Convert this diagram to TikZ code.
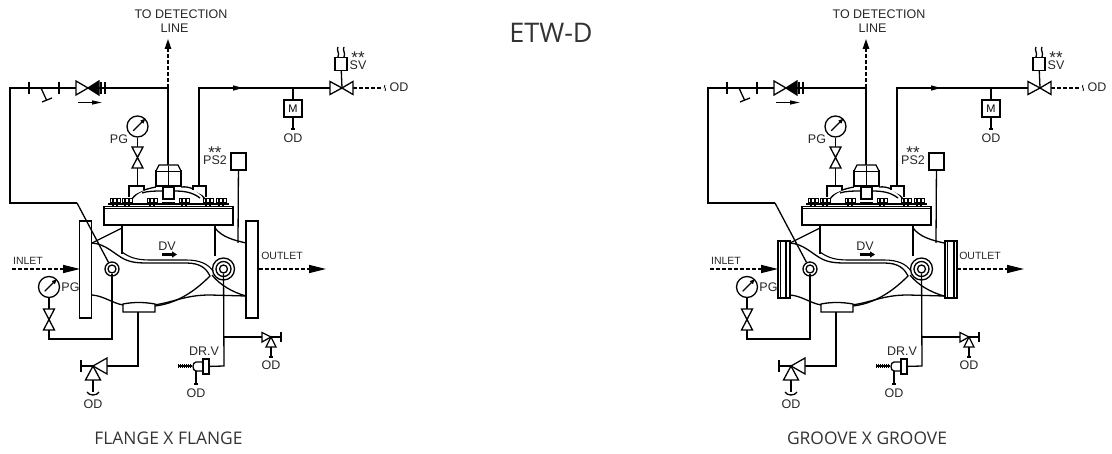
\documentclass[tikz,border=0pt]{standalone}
\usepackage{fontspec}
\setmainfont{Liberation Sans}
\newfontfamily\titlefont{Open Sans}
\usetikzlibrary{arrows.meta}

\newcommand{\stars}{\fontsize{17}{17}\selectfont\raisebox{-7pt}[5pt][0pt]{**}}

\begin{document}
\begin{tikzpicture}[x=1pt,y=-1pt,line width=1.3pt,
    tag/.style={font=\fontsize{12.5}{13}\selectfont,inner sep=0pt,text=black!85},
    smalltag/.style={font=\fontsize{10.5}{11}\selectfont,inner sep=0pt,text=black!85},
    caption/.style={font=\titlefont\fontsize{17.4}{18}\selectfont,inner sep=0pt,text=black!80},
    gauge/.style={circle,draw,fill=white,inner sep=0pt,minimum size=21pt},
    port/.style={circle,draw,fill=white,inner sep=0pt,minimum size=#1},
    boxn/.style={rectangle,draw,fill=white,inner sep=0pt,minimum width=#1},
    flange/.style={rectangle,draw,line width=1.5pt,inner sep=0pt,minimum width=12pt,minimum height=97pt},
    groove/.style={rectangle,draw,line width=1.5pt,inner sep=0pt,minimum width=12pt,minimum height=57pt},
    flow/.style={dash pattern=on 3.5pt off 2.5pt},
    sym/.style={draw,fill=white,line join=miter},
    needle/.style={-{Triangle[length=5pt,width=4pt]},line width=1.1pt},
    pics/bowtie/.style={code={\path[sym] (-5.5,-10.5) -- (5.5,-10.5) -- (-5.5,10.5) -- (5.5,10.5) -- cycle;}}]

    \useasboundingbox (0,0) rectangle (1112,454);

    \node[font=\titlefont\fontsize{27}{28}\selectfont,inner sep=0pt,text=black!80] (title) at (551,33) {ETW-D};
    \node[caption] (capL) at (168.5,438) {FLANGE X FLANGE};
    \node[caption] (capR) at (867,438) {GROOVE X GROOVE};

    \foreach \s/\dx in {L/0,R/698}{
    \begin{scope}[xshift=\dx pt]
    %% labels
    \node[tag] (toA\s) at (181,14) {TO DETECTION};
    \node[tag] (toB\s) at (174.5,28) {LINE};
    \node[tag] (pgA\s) at (119,139) {PG};
    \node[tag] (pgB\s) at (70.5,287) {PG};
    \node[tag] (ps\s) at (215,160) {PS2};
    \node[tag] (psS\s) at (215,149) {\stars};
    \node[tag] (svS\s) at (358,54.5) {\stars};
    \node[tag] (sv\s) at (358,65) {SV};
    \node[tag] (dv\s) at (167,246) {DV};
    \node[smalltag] (in\s) at (28,261) {INLET};
    \node[smalltag] (out\s) at (282,256) {OUTLET};
    \node[tag] (drv\s) at (204,351) {DR.V};
    \node[tag] (odA\s) at (399,87) {OD};
    \node[tag] (odB\s) at (293,138) {OD};
    \node[tag] (odC\s) at (93,404) {OD};
    \node[tag] (odD\s) at (196,393) {OD};
    \node[tag] (odE\s) at (271,365) {OD};

    %% junctions
    \coordinate (topA\s) at (10,88);
    \coordinate (topB\s) at (10,203);
    \coordinate (topC\s) at (77,203);
    \coordinate (tee\s) at (168,88);
    \coordinate (up\s) at (168,39);
    \coordinate (pilot\s) at (168,187);
    \coordinate (riseA\s) at (199,88);
    \coordinate (riseB\s) at (199,187);
    \coordinate (mtee\s) at (293,88);
    \coordinate (way\s) at (342,88);
    \coordinate (wayE\s) at (353,88);
    \coordinate (wayO\s) at (383,88);
    \coordinate (inS\s) at (12,269);
    \coordinate (inE\s) at (80,269);
    \coordinate (outS\s) at (259,269);
    \coordinate (outE\s) at (326,269);
    \coordinate (lowA\s) at (112,339);
    \coordinate (lowB\s) at (49,339);
    \coordinate (padA\s) at (138,312);
    \coordinate (padB\s) at (138,366);
    \coordinate (ang\s) at (93,366);
    \coordinate (angO\s) at (93,392);
    \coordinate (dra\s) at (224,366);
    \coordinate (drb\s) at (224,337);
    \coordinate (ret\s) at (271,337);
    \coordinate (retO\s) at (271,357);
    \coordinate (drO\s) at (196,384);
    \coordinate (mO\s) at (293,129);
    \coordinate (psB\s) at (238,243);

    %% gauges, ports, boxes
    \node[gauge] (PGa\s) at (137.5,126.5) {};
    \node[gauge] (PGb\s) at (49,287) {};
    \node[port=14pt] (portA\s) at (112,269) {};
    \node[port=8pt] (portAi\s) at (112,269) {};
    \node[port=22pt] (portB\s) at (223.5,269) {};
    \node[port=15pt] (portBm\s) at (223.5,269) {};
    \node[port=8pt] (portBi\s) at (223.5,269) {};
    \node[boxn=18pt,minimum height=17pt,font=\fontsize{11}{11}\selectfont] (M\s) at (293,108.5) {M};
    \node[boxn=12pt,minimum height=12.5pt] (SV\s) at (341,64) {};
    \node[boxn=15pt,minimum height=17pt] (PS\s) at (238.5,161.5) {};
    \node[boxn=6pt,minimum height=15pt] (DR\s) at (206,366.5) {};

    %% piping
    \draw (topC\s) -- (topB\s) -- (topA\s) -- (tee\s) -- (pilot\s);
    \draw (topC\s) -- (portA\s);
    \draw[flow,-{Triangle[length=10pt,width=6.5pt]}] (tee\s) -- (up\s);
    \draw (riseB\s) -- (riseA\s) -- (way\s);
    \draw[-{Triangle[length=10pt,width=5pt]}] (riseA\s) -- (243,88);
    \draw (mtee\s) -- (M\s);
    \draw (M\s) -- (mO\s);
    \draw (291,129) -- (295,129);
    \draw (SV\s) -- (way\s);
    \draw[flow] (wayE\s) -- (wayO\s);
    \draw[line width=.8pt] (385,85) .. controls (383,87) and (387,89) .. (385,91);
    \draw (PS\s) -- (psB\s);
    \draw (PGa\s) -- (137.5,187);
    \draw[flow,-{Triangle[length=17pt,width=8pt]}] (inS\s) -- (inE\s);
    \draw[flow,-{Triangle[length=17pt,width=8pt]}] (outS\s) -- (outE\s);
    \draw (portAi\s) -- (lowA\s) -- (lowB\s) -- (PGb\s);
    \draw (padA\s) -- (padB\s) -- (ang\s);
    \draw (portBi\s) -- (dra\s) -- (DR\s);
    \draw (drb\s) -- (ret\s);
    \draw (196,371) -- (drO\s);
    \draw (194,384) -- (198,384);
    \draw (ang\s) -- (angO\s);
    \draw (ret\s) -- (retO\s);
    \draw (269,357) -- (273,357);
    \draw[needle,shorten <=5pt] (PGa\s.225) -- (PGa\s.45);
    \draw[needle,shorten <=5pt] (PGb\s.225) -- (PGb\s.45);

    %% line symbols
    \draw (29,82) -- (29,94);
    \draw (59,82) -- (59,94);
    \draw (41,88) -- (46.5,100);
    \draw (42,102) -- (52,98);
    \path[sym] (76,81) -- (76,95) -- (88,88) -- cycle;
    \path[sym,fill=black] (88,88) -- (99,81) -- (99,95) -- cycle;
    \draw (101,82) -- (101,94);
    \draw (105,82) -- (105,94);
    \draw[-{Triangle[length=10pt,width=4pt]}] (78,102.5) -- (102,102.5);
    \path[sym] (330,81.5) -- (330,94.5) -- (342,88) -- cycle;
    \path[sym] (353,81.5) -- (353,94.5) -- (342,88) -- cycle;
    \draw (338,47) .. controls (336,50) and (340,53) .. (338,57);
    \draw (344,47) .. controls (342,50) and (346,53) .. (344,57);
    \pic at (137.5,157.5) {bowtie};
    \pic at (49,319.5) {bowtie};
    \path[sym] (107,358) -- (107,374) -- (93,366) -- cycle;
    \path[sym] (93,366) -- (85.5,380) -- (100.5,380) -- cycle;
    \draw (81,366) -- (93,366);
    \draw (81,360) -- (81,372);
    \draw (87,392) .. controls (89,396) and (97,396) .. (99,392);
    \path[sym] (262,332.5) -- (262,342) -- (271,337) -- cycle;
    \path[sym] (271,337) -- (266,347) -- (276,347) -- cycle;
    \draw (271,337) -- (281,337);
    \draw (281,332) -- (281,342);
    %% drain valve
    \draw (203,362) -- (196,362) .. controls (192,362) and (192,371) .. (196,371) -- (203,371);
    \foreach \k in {178,180,...,190}
    \draw[line width=.9pt] (\k,364) -- (\k,368.5);
    \draw (178,366) -- (192,366);
    \draw[line width=.8pt] (203,359) -- (203,374);

    %% bonnet
    \draw[line width=1.5pt] (104,206.5) rectangle (233,225);
    \draw[line width=1pt] (104,208.5) -- (233,208.5);
    \foreach \b in {115,127,152,184,208,221}{
      \path[sym,line width=1pt] (\b-5,198.5) rectangle (\b+5,203);
      \draw[line width=1.4pt] (\b-2,198.5) -- (\b-2,206);
      \draw[line width=1.4pt] (\b+2,198.5) -- (\b+2,206);
    }
    \draw[line width=1.2pt] (108,204) -- (229,204);
    \path[sym] (163,187) rectangle (174,199);
    \draw[line width=2.5pt] (162,203) -- (175,203);
    \draw (132,199) .. controls (137,192) and (145,189) .. (156,187);
    \draw (181,187) .. controls (190,186) and (198,190) .. (205,199);
    \draw (142,193) .. controls (148,191) and (155,191) .. (163,191);
    \draw (174,191) .. controls (184,191) and (192,192) .. (200,198);
    \path[sym] (129,197) -- (129,186) -- (144,186) -- (144,190);
    \path[sym] (206,197) -- (206,186) -- (193,186) -- (193,190);
    \path[sym] (156,171) rectangle (181,186);
    \path[sym] (156,171) -- (159,165) -- (178,165) -- (181,171);
    \draw[line width=1pt] (168,166) -- (168,187);

    %% valve body
    \draw (122,225) -- (122,254);
    \draw (215,225) -- (215,256);
    \draw (92,243) -- (122,228);
    \draw (215,228) .. controls (222,237) and (233,240) .. (246,243);
    \draw[line width=1.1pt] (122,252) .. controls (130,258) and (138,260) .. (150,260) -- (186,260) .. controls (200,260) and (208,264) .. (213,271);
    \draw (92,243) .. controls (106,244) and (114,254) .. (124,259) .. controls (132,263) and (140,263) .. (150,263) -- (186,263) .. controls (200,263) and (206,268) .. (210,276) .. controls (198,288) and (180,303) .. (155,306);
    \draw (212,275) .. controls (220,285) and (232,292) .. (246,296);
    \draw (92,295) .. controls (104,296) and (112,303) .. (123,305);
    \draw (154,305) .. controls (175,302) and (185,295) .. (210,295) -- (246,296);
    \path[sym] (123,312) -- (123,304) .. controls (133,302) and (144,302) .. (155,304) -- (155,312) -- cycle;
    %% flow mark
    \draw[line width=2.5pt,-{Triangle[length=5pt,width=6pt]}] (162,254.5) -- (177,254.5);
    \end{scope}
    }

    %% end connections
    \node[flange] (inFlange) at (85.5,269.5) {};
    \node[flange] (outFlange) at (252,269.5) {};
    \node[groove] (inGroove) at (784,269.5) {};
    \node[groove] (outGroove) at (951,269.5) {};
    \foreach \g/\a/\b in {inGroove/780.7/785.5,outGroove/947.5/953.5}{
      \draw (\a,241) -- (\a,298);
      \draw[line width=2pt] (\b,241) -- (\b,298);
    }
  \end{tikzpicture}
\end{document}
